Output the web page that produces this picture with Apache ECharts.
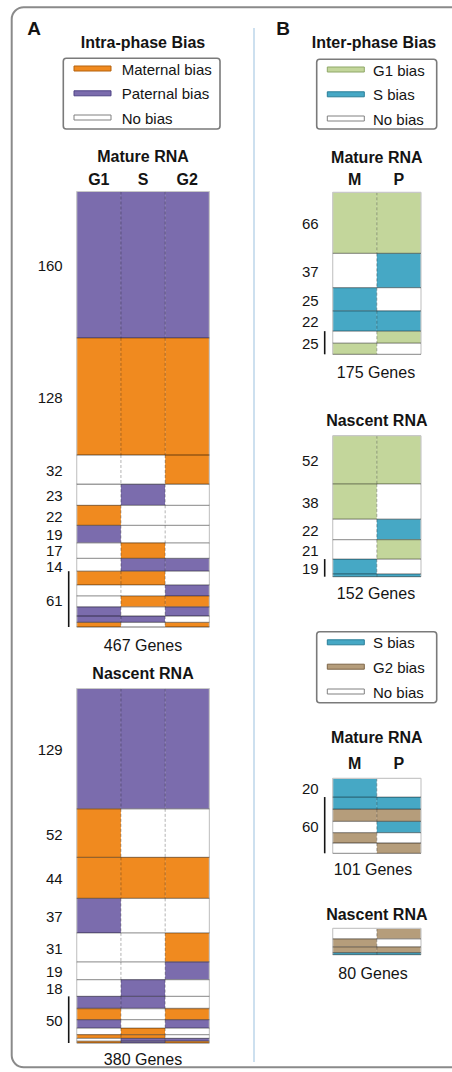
<!DOCTYPE html>
<html>
<head>
<meta charset="utf-8">
<script src="https://cdn.jsdelivr.net/npm/echarts/dist/echarts.min.js"></script>
<style>
  html, body { margin: 0; padding: 0; background: #ffffff; }
  #chart { width: 452px; height: 1072px; }
</style>
</head>
<body>
<div id="chart"></div>
<script>
// ---- Column headers ----
const intraPhases = ['G1', 'S', 'G2'];
const interParents = ['M', 'P'];

// ---- Intra-phase bias, mature RNA (gene counts per pattern, top to bottom) ----
const intraMatureCounts = [160, 128, 32, 23, 22, 19, 17, 14, 15, 12, 12, 10, 7, 5];
const intraMatureBias = [
  ['pat', 'pat', 'pat'], ['mat', 'mat', 'mat'], ['none', 'none', 'mat'], ['none', 'pat', 'none'],
  ['mat', 'none', 'none'], ['pat', 'none', 'none'], ['none', 'mat', 'none'], ['none', 'pat', 'pat'],
  ['mat', 'mat', 'none'], ['none', 'none', 'pat'], ['none', 'mat', 'mat'], ['pat', 'none', 'pat'],
  ['pat', 'pat', 'none'], ['mat', 'none', 'mat']
];
const intraMatureSingles = 8;   // rows labelled one by one; the rest share a bracket

// ---- Intra-phase bias, nascent RNA ----
const intraNascentCounts = [129, 52, 44, 37, 31, 19, 18, 13, 12, 9, 7, 4, 3, 2];
const intraNascentBias = [
  ['pat', 'pat', 'pat'], ['mat', 'none', 'none'], ['mat', 'mat', 'mat'], ['pat', 'none', 'none'],
  ['none', 'none', 'mat'], ['none', 'none', 'pat'], ['none', 'pat', 'none'],
  ['pat', 'pat', 'none'], ['mat', 'none', 'mat'], ['pat', 'none', 'pat'], ['none', 'mat', 'none'],
  ['mat', 'mat', 'none'], ['none', 'pat', 'pat'], ['mat', 'pat', 'mat']
];
const intraNascentSingles = 7;

// ---- Inter-phase bias (G1 vs S), mature RNA ----
const g1sMatureCounts = [66, 37, 25, 22, 13, 12];
const g1sMatureBias = [
  ['G1', 'G1'], ['none', 'S'], ['S', 'none'], ['S', 'S'], ['none', 'G1'], ['G1', 'none']
];
const g1sMatureSingles = 4;

// ---- Inter-phase bias (G1 vs S), nascent RNA ----
const g1sNascentCounts = [52, 38, 22, 21, 16, 3];
const g1sNascentBias = [
  ['G1', 'G1'], ['G1', 'none'], ['none', 'S'], ['none', 'G1'], ['S', 'none'], ['S', 'S']
];
const g1sNascentSingles = 4;

// ---- Inter-phase bias (S vs G2), mature RNA ----
const sg2MatureCounts = [20, 13, 13, 12, 11, 11];
const sg2MatureBias = [
  ['S', 'none'], ['S', 'S'], ['G2', 'G2'], ['none', 'S'], ['G2', 'none'], ['none', 'G2']
];
const sg2MatureSingles = 1;

// ---- Inter-phase bias (S vs G2), nascent RNA ----
const sg2NascentCounts = [32, 24, 18, 6];
const sg2NascentBias = [
  ['none', 'G2'], ['G2', 'none'], ['G2', 'G2'], ['S', 'S']
];
const sg2NascentSingles = null; // no row labels

// ---- Captions ----
const geneTotals = [467, 380, 175, 152, 101, 80];

// ---- Legends ----
const intraLegend = [['mat', 'Maternal bias'], ['pat', 'Paternal bias'], ['none', 'No bias']];
const g1sLegend = [['G1', 'G1 bias'], ['S', 'S bias'], ['none', 'No bias']];
const sg2Legend = [['S', 'S bias'], ['G2', 'G2 bias'], ['none', 'No bias']];

// ---- Styling ----
const FONT = "'Liberation Sans', Arial, Helvetica, sans-serif";
const INK = '#141414';
const biasKeys = ['none', 'mat', 'pat', 'G1', 'S', 'G2'];
const biasColors = {
  none: '#ffffff', mat: '#F08A1F', pat: '#7B6CAD',
  G1: '#C3D69B', S: '#46A8C5', G2: '#B59D7B'
};
const biasEdges = {
  none: '#808080', mat: '#B5620F', pat: '#4F4385',
  G1: '#8FA868', S: '#2A7E98', G2: '#7D6647'
};

// Layout of each stacked block (pixels)
const blocks = [
  { counts: intraMatureCounts, bias: intraMatureBias, singles: intraMatureSingles, cols: intraPhases,
    header: true, margin: 4, box: { left: 76.7, top: 191.5, width: 132.7, height: 435.5 },
    title: 'Mature RNA', titleY: 156, caption: [143, 645] },
  { counts: intraNascentCounts, bias: intraNascentBias, singles: intraNascentSingles, cols: intraPhases,
    header: false, margin: 4, box: { left: 76.7, top: 688.5, width: 132.7, height: 354.5 },
    title: 'Nascent RNA', titleY: 673, caption: [143, 1059] },
  { counts: g1sMatureCounts, bias: g1sMatureBias, singles: g1sMatureSingles, cols: interParents,
    header: true, margin: 5, box: { left: 332.7, top: 192.3, width: 88.3, height: 162 },
    title: 'Mature RNA', titleY: 157, caption: [376, 372] },
  { counts: g1sNascentCounts, bias: g1sNascentBias, singles: g1sNascentSingles, cols: interParents,
    header: false, margin: 5, box: { left: 332.7, top: 435.7, width: 88.3, height: 141 },
    title: 'Nascent RNA', titleY: 420, caption: [376, 593] },
  { counts: sg2MatureCounts, bias: sg2MatureBias, singles: sg2MatureSingles, cols: interParents,
    header: true, margin: 7, box: { left: 332.7, top: 778.3, width: 88.3, height: 75 },
    title: 'Mature RNA', titleY: 737, caption: [373, 869] },
  { counts: sg2NascentCounts, bias: sg2NascentBias, singles: sg2NascentSingles, cols: interParents,
    header: false, margin: 5, box: { left: 332.7, top: 928.3, width: 88.3, height: 26.4 },
    title: 'Nascent RNA', titleY: 914, caption: [373, 973] }
];

function sum(a) { return a.reduce((s, v) => s + v, 0); }

// One data item per cell: [column, start, end, colour index, last column flag]
function cellData(block) {
  const out = [];
  let start = 0;
  block.counts.forEach((n, r) => {
    block.bias[r].forEach((key, c) => {
      out.push([c, start, start + n, biasKeys.indexOf(key), c === block.cols.length - 1 ? 1 : 0]);
    });
    start += n;
  });
  return out;
}

// Row count labels: [x, start, end, value, bracket flag]
function labelData(block) {
  const out = [];
  if (block.singles === null) return out;
  let start = 0;
  block.counts.forEach((n, r) => {
    if (r < block.singles) out.push([0, start, start + n, n, 0]);
    start += n;
  });
  const groupStart = sum(block.counts.slice(0, block.singles));
  const groupTotal = sum(block.counts.slice(block.singles));
  if (groupTotal > 0) out.push([0, groupStart, groupStart + groupTotal, groupTotal, 1]);
  return out;
}

function renderCell(params, api) {
  const c = api.value(0), v0 = api.value(1), v1 = api.value(2);
  const color = biasColors[biasKeys[api.value(3)]];
  const p0 = api.coord([c, v0]);
  const p1 = api.coord([c, v1]);
  const w = api.size([1, 0])[0];
  const x = p0[0] - w / 2, y = p0[1], h = p1[1] - p0[1];
  const kids = [
    { type: 'rect', z2: 0, shape: { x: x, y: y, width: w, height: h }, style: { fill: color } },
    { type: 'line', z2: 2, shape: { x1: x, y1: y + h, x2: x + w, y2: y + h },
      style: { stroke: 'rgba(0,0,0,0.38)', lineWidth: 1.3 } }
  ];
  if (v0 === 0) {
    kids.push({ type: 'line', z2: 2, shape: { x1: x, y1: y, x2: x + w, y2: y },
      style: { stroke: '#c8c8c8', lineWidth: 1.2 } });
  }
  if (c === 0) {
    kids.push({ type: 'line', z2: 1, shape: { x1: x, y1: y, x2: x, y2: y + h },
      style: { stroke: '#c8c8c8', lineWidth: 1.2 } });
  } else {
    kids.push({ type: 'line', z2: 1, shape: { x1: x, y1: y, x2: x, y2: y + h },
      style: { stroke: 'rgba(0,0,0,0.3)', lineWidth: 1, lineDash: [3, 2] } });
  }
  if (api.value(4)) {
    kids.push({ type: 'line', z2: 1, shape: { x1: x + w, y1: y, x2: x + w, y2: y + h },
      style: { stroke: '#c8c8c8', lineWidth: 1.2 } });
  }
  return { type: 'group', children: kids };
}

// Row labels sit at the middle of their row; neighbours that would collide
// are spread apart just enough to keep a minimum spacing.
const LABEL_GAP = 16;
function makeLabelRenderer(items) {
  return function (params, api) {
    const centers = items.map(d => {
      const a = api.coord([0, d[1]])[1], b = api.coord([0, d[2]])[1];
      return (a + b) / 2;
    });
    const pos = centers.slice();
    for (let pass = 0; pass < 20; pass++) {
      for (let k = 1; k < pos.length; k++) {
        const d = pos[k] - pos[k - 1];
        if (d < LABEL_GAP) {
          const push = (LABEL_GAP - d) / 2;
          pos[k - 1] -= push;
          pos[k] += push;
        }
      }
    }
    const i = params.dataIndex;
    const y0 = api.coord([0, api.value(1)])[1];
    const y1 = api.coord([0, api.value(2)])[1];
    const left = params.coordSys.x;
    const kids = [{
      type: 'text',
      style: {
        text: String(api.value(3)), x: left - 14, y: pos[i] + 1,
        align: 'right', verticalAlign: 'middle',
        font: '15px ' + FONT, fill: INK
      }
    }];
    if (api.value(4)) {
      kids.push({ type: 'line', shape: { x1: left - 8, y1: y0, x2: left - 8, y2: y1 },
        style: { stroke: INK, lineWidth: 1.6 } });
    }
    return { type: 'group', children: kids };
  };
}

// ---- Static decorations: frame, divider, titles, legends, captions ----
function text(x, y, str, size, bold, align) {
  return {
    type: 'text', silent: true,
    style: {
      text: str, x: x, y: y, align: align || 'center', verticalAlign: 'middle',
      font: (bold ? 'bold ' : '') + size + 'px ' + FONT, fill: INK
    }
  };
}

function legend(box, items, swatchX, textX, rowYs) {
  const els = [{
    type: 'rect', silent: true,
    shape: { x: box[0], y: box[1], width: box[2], height: box[3], r: 3 },
    style: { fill: '#ffffff', stroke: '#7a7a7a', lineWidth: 1.6 }
  }];
  items.forEach((it, i) => {
    els.push({
      type: 'rect', silent: true,
      shape: { x: swatchX, y: rowYs[i] - 2.5, width: 37, height: 5 },
      style: { fill: biasColors[it[0]], stroke: biasEdges[it[0]], lineWidth: 1 }
    });
    els.push(text(textX, rowYs[i] + 0.5, it[1], 15, false, 'left'));
  });
  return els;
}

const graphics = [
  { type: 'rect', silent: true, z: -1,
    shape: { x: 11.7, y: 7.3, width: 460, height: 1060, r: 12 },
    style: { fill: '#ffffff', stroke: '#8a8a8a', lineWidth: 2 } },
  { type: 'line', silent: true,
    shape: { x1: 254, y1: 28, x2: 254, y2: 1062 },
    style: { stroke: '#bcd6ea', lineWidth: 1.5 } },
  text(34, 28, 'A', 19, true),
  text(283, 28, 'B', 19, true),
  text(143, 42, 'Intra-phase Bias', 16, true),
  text(374, 42, 'Inter-phase Bias', 16, true)
]
  .concat(legend([63.3, 58.3, 156.7, 70.7], intraLegend, 74, 121.7, [68.5, 93.3, 117.5]))
  .concat(legend([316.7, 59.3, 120, 69.7], g1sLegend, 327.3, 373, [69.5, 94.3, 118.5]))
  .concat(legend([316.7, 631.7, 120, 71], sg2Legend, 327.3, 373, [642.3, 666.7, 691.5]));

blocks.forEach((b, i) => {
  const cx = b.box.left + b.box.width / 2;
  graphics.push(text(cx, b.titleY, b.title, 16, true));
  graphics.push(text(b.caption[0], b.caption[1], geneTotals[i] + ' Genes', 16, false));
});

const option = {
  backgroundColor: '#ffffff',
  animation: false,
  graphic: graphics,
  grid: blocks.map(b => ({
    left: b.box.left, top: b.box.top, width: b.box.width, height: b.box.height,
    show: false, containLabel: false
  })),
  xAxis: blocks.map((b, i) => ({
    gridIndex: i, type: 'category', data: b.cols, position: 'top',
    axisLine: { show: false }, axisTick: { show: false }, splitLine: { show: false },
    axisLabel: {
      show: b.header, margin: b.margin, fontSize: 16, fontWeight: 'bold',
      fontFamily: FONT, color: INK
    }
  })),
  yAxis: blocks.map((b, i) => ({
    gridIndex: i, type: 'value', inverse: true, min: 0, max: sum(b.counts), show: false
  })),
  series: blocks.map((b, i) => ({
    type: 'custom', xAxisIndex: i, yAxisIndex: i,
    renderItem: renderCell, encode: { x: 0, y: [1, 2] },
    data: cellData(b), silent: true
  })).concat(blocks.map((b, i) => {
    const items = labelData(b);
    return {
      type: 'custom', xAxisIndex: i, yAxisIndex: i, clip: false,
      renderItem: makeLabelRenderer(items), encode: { x: 0, y: [1, 2] },
      data: items, silent: true
    };
  }))
};

const chart = echarts.init(document.getElementById('chart'), null, { renderer: 'svg' });
chart.setOption(option);
</script>
</body>
</html>
